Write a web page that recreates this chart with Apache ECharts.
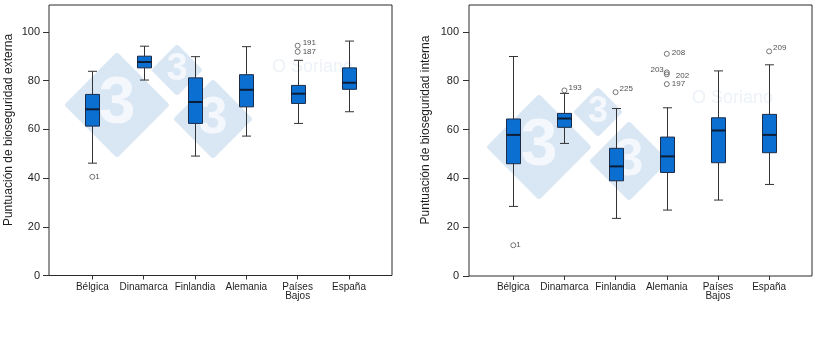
<!DOCTYPE html>
<html>
<head>
<meta charset="utf-8">
<script src="https://cdn.jsdelivr.net/npm/echarts@6/dist/echarts.min.js"></script>
<style>
html,body{margin:0;padding:0;background:#fff;}
#c{width:820px;height:337px;}
</style>
</head>
<body>
<div id="c"></div>
<script>
// ---- data ----
const categories = ['Bélgica', 'Dinamarca', 'Finlandia', 'Alemania', 'Países\nBajos', 'España'];
// [min, Q1, median, Q3, max]
const externaBox = [
  [46.1, 61.3, 68.2, 74.3, 83.8],
  [80.2, 85.2, 87.6, 90.0, 94.1],
  [49.0, 62.4, 71.2, 81.1, 89.8],
  [57.2, 69.2, 76.2, 82.4, 93.9],
  [62.4, 70.6, 74.6, 78.0, 88.3],
  [67.2, 76.4, 79.1, 85.2, 96.2]
];
// [category index, value, case id]
const externaOutliers = [[0, 40.5, '1'], [4, 94.3, '191'], [4, 91.8, '187']];
const internaBox = [
  [28.5, 46.0, 57.8, 64.3, 89.9],
  [54.3, 60.9, 64.5, 66.6, 74.8],
  [23.6, 39.0, 44.9, 52.3, 68.6],
  [27.0, 42.4, 49.0, 56.9, 68.9],
  [31.1, 46.4, 59.6, 64.8, 84.0],
  [37.5, 50.5, 57.8, 66.2, 86.5]
];
const internaOutliers = [[0, 12.6, '1'], [1, 76.0, '193'], [2, 75.3, '225'], [3, 91.0, '208'],
  [3, 83.4, '203'], [3, 82.6, '202'], [3, 78.6, '197'], [5, 92.0, '209']];
const yTicks = [0, 20, 40, 60, 80, 100];
const yMax = 111;
const titleExterna = 'Puntuación de bioseguridad externa';
const titleInterna = 'Puntuación de bioseguridad interna';

// ---- styling / layout ----
const FONT = "'Liberation Sans', Arial, sans-serif";
const TXT = '#1e1e1e';
const labelPlace = {
  left: {'1': {position: 'right', offset: [-2, 0]}, '191': {position: 'right', offset: [0, -3]}, '187': {position: 'right', offset: [0, 0]}},
  right: {'1': {position: 'right', offset: [-2, 0]}, '193': {position: 'right', offset: [-1, -3]}, '225': {position: 'right', offset: [-1, -3]},
    '208': {position: 'right', offset: [0, -1]}, '203': {position: 'left', offset: [2, -3]}, '202': {position: 'right', offset: [4, 1]},
    '197': {position: 'right', offset: [0, 0]}, '209': {position: 'right', offset: [-1, -4]}}
};

function renderBox(params, api) {
  const x = api.value(0);
  const pMin = api.coord([x, api.value(1)]);
  const pQ1 = api.coord([x, api.value(2)]);
  const pMed = api.coord([x, api.value(3)]);
  const pQ3 = api.coord([x, api.value(4)]);
  const pMax = api.coord([x, api.value(5)]);
  const cx = Math.round(pMin[0]) + 0.5;
  const hw = 7, cw = 4.5;
  const wStyle = {stroke: '#333333', lineWidth: 1};
  return {
    type: 'group',
    children: [
      {type: 'line', shape: {x1: cx, y1: pMax[1], x2: cx, y2: pQ3[1]}, style: wStyle},
      {type: 'line', shape: {x1: cx, y1: pQ1[1], x2: cx, y2: pMin[1]}, style: wStyle},
      {type: 'line', shape: {x1: cx - cw, y1: pMax[1], x2: cx + cw, y2: pMax[1]}, style: wStyle},
      {type: 'line', shape: {x1: cx - cw, y1: pMin[1], x2: cx + cw, y2: pMin[1]}, style: wStyle},
      {type: 'rect', shape: {x: cx - hw, y: pQ3[1], width: 2 * hw, height: pQ1[1] - pQ3[1]},
        style: {fill: '#0a6fd0', stroke: '#1c2c48', lineWidth: 1}},
      {type: 'line', shape: {x1: cx - hw, y1: pMed[1], x2: cx + hw, y2: pMed[1]},
        style: {stroke: '#0e1d36', lineWidth: 2}}
    ]
  };
}

function boxData(arr) { return arr.map((b, i) => [i].concat(b)); }
function outData(arr, side) {
  return arr.map(o => ({value: [o[0], o[1]], name: o[2], label: labelPlace[side][o[2]]}));
}

const grids = [
  {left: 49, top: 5, width: 343, height: 270.5, show: true, borderColor: '#2a2a2a', borderWidth: 1, backgroundColor: 'transparent'},
  {left: 66.65, top: 5, width: 308, height: 270.5},
  {left: 469, top: 5, width: 343, height: 271, show: true, borderColor: '#2a2a2a', borderWidth: 1, backgroundColor: 'transparent'},
  {left: 487.7, top: 5, width: 307, height: 271}
];

function frameY(gi, margin) {
  return {
    gridIndex: gi, type: 'value', min: 0, max: yMax,
    axisLine: {show: false},
    axisTick: {show: true, length: 6, customValues: yTicks, lineStyle: {color: '#333'}},
    axisLabel: {customValues: yTicks, margin: margin, fontSize: 11, color: TXT, fontFamily: FONT},
    splitLine: {show: false}
  };
}
function dataX(gi) {
  return {
    gridIndex: gi, type: 'category', data: categories,
    axisLine: {show: false},
    axisTick: {show: true, alignWithLabel: true, length: 4, lineStyle: {color: '#333'}},
    axisLabel: {fontSize: 10, color: TXT, fontFamily: FONT, margin: 7, lineHeight: 9, interval: 0}
  };
}

function diamond(cx, cy, d, fs) {
  const r = d / Math.SQRT2;
  return [
    {type: 'rect', x: cx, y: cy, rotation: Math.PI / 4, z: -10, silent: true,
      shape: {x: -r, y: -r, width: 2 * r, height: 2 * r, r: 3},
      style: {fill: '#d9e6f4'}},
    {type: 'text', x: cx, y: cy, z: -9, silent: true,
      style: {text: '3', fill: '#f4f8fc', font: 'bold ' + fs + 'px ' + FONT, align: 'center', verticalAlign: 'middle'}}
  ];
}

const graphics = [].concat(
  diamond(117, 105, 53, 66), diamond(177, 70, 26, 38), diamond(213, 119, 40, 52),
  diamond(539, 147, 53, 66), diamond(598, 112, 25, 36), diamond(629, 161, 40, 52),
  [
    {type: 'text', x: 272, y: 67, z: -9, silent: true, style: {text: 'O Soriano', fill: '#edf2f8', font: '18px ' + FONT, verticalAlign: 'middle'}},
    {type: 'text', x: 692, y: 98, z: -9, silent: true, style: {text: 'O Soriano', fill: '#edf2f8', font: '18px ' + FONT, verticalAlign: 'middle'}},
    {type: 'text', x: 9, y: 130, rotation: Math.PI / 2, silent: true,
      style: {text: titleExterna, fill: TXT, font: '12px ' + FONT, align: 'center', verticalAlign: 'middle'}},
    {type: 'text', x: 426, y: 130, rotation: Math.PI / 2, silent: true,
      style: {text: titleInterna, fill: TXT, font: '12px ' + FONT, align: 'center', verticalAlign: 'middle'}}
  ]
);

const outlierSeries = (arr, side, xi, yi) => ({
  type: 'scatter', xAxisIndex: xi, yAxisIndex: yi, data: outData(arr, side),
  symbol: 'circle', symbolSize: 5,
  itemStyle: {color: 'rgba(255,255,255,0)', borderColor: '#555', borderWidth: 1},
  label: {show: true, formatter: '{b}', position: 'right', distance: 2, fontSize: 8, color: '#222', fontFamily: FONT},
  z: 5
});

const option = {
  animation: false,
  backgroundColor: '#fff',
  textStyle: {fontFamily: FONT},
  graphic: graphics,
  grid: grids,
  xAxis: [
    {gridIndex: 0, type: 'value', min: 0, max: 1, show: false},
    dataX(1),
    {gridIndex: 2, type: 'value', min: 0, max: 1, show: false},
    dataX(3)
  ],
  yAxis: [
    frameY(0, 9),
    {gridIndex: 1, type: 'value', min: 0, max: yMax, show: false},
    frameY(2, 10),
    {gridIndex: 3, type: 'value', min: 0, max: yMax, show: false}
  ],
  series: [
    {type: 'custom', xAxisIndex: 1, yAxisIndex: 1, data: boxData(externaBox), renderItem: renderBox,
      encode: {x: 0, y: [1, 2, 3, 4, 5]}, z: 3},
    outlierSeries(externaOutliers, 'left', 1, 1),
    {type: 'custom', xAxisIndex: 3, yAxisIndex: 3, data: boxData(internaBox), renderItem: renderBox,
      encode: {x: 0, y: [1, 2, 3, 4, 5]}, z: 3},
    outlierSeries(internaOutliers, 'right', 3, 3)
  ]
};

const chart = echarts.init(document.getElementById('c'), null, {renderer: 'canvas'});
chart.setOption(option);
</script>
</body>
</html>
